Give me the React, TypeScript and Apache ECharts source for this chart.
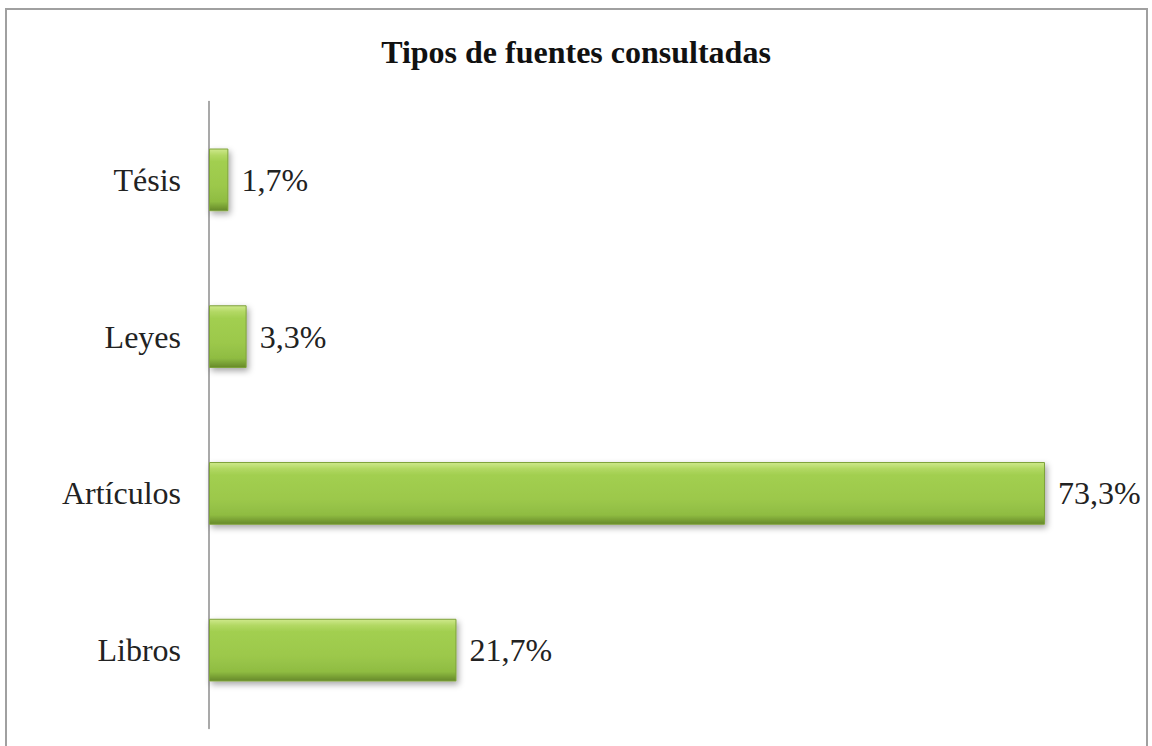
import React, { useEffect, useRef } from "react";
import * as echarts from "echarts";

const categories = ["Libros", "Artículos", "Leyes", "Tésis"];
const values = [21.7, 73.3, 3.3, 1.7];
const title = "Tipos de fuentes consultadas";

export default function App() {
  const ref = useRef<HTMLDivElement>(null);
  useEffect(() => {
    const chart = echarts.init(ref.current!, null, { renderer: "svg" });
    chart.setOption({
      animation: false,
      backgroundColor: "#ffffff",
      title: {
        text: title,
        left: "center",
        top: 31,
        textStyle: {
          fontFamily: "Liberation Serif",
          fontWeight: "bold",
          fontSize: 32,
          color: "#111",
        },
      },
      graphic: [
        {
          type: "rect",
          shape: { x: 6, y: 9, width: 1141, height: 760 },
          style: { fill: "none", stroke: "#a0a0a0", lineWidth: 2 },
          silent: true,
        },
      ],
      grid: { left: 209, top: 101.5, width: 912.4, height: 627 },
      xAxis: {
        type: "value",
        min: 0,
        max: 80,
        show: false,
      },
      yAxis: {
        type: "category",
        data: categories,
        axisLine: { show: true, lineStyle: { color: "#8c8c8c", width: 1.5 } },
        axisTick: { show: false },
        axisLabel: {
          fontFamily: "Liberation Serif",
          fontSize: 32,
          color: "#222",
          margin: 28,
        },
      },
      series: [
        {
          type: "bar",
          data: values,
          barCategoryGap: "60%",
          itemStyle: {
            color: new echarts.graphic.LinearGradient(0, 0, 0, 1, [
              { offset: 0, color: "#cfe98c" },
              { offset: 0.1, color: "#b2d863" },
              { offset: 0.2, color: "#a2cf50" },
              { offset: 0.6, color: "#9cc84b" },
              { offset: 0.85, color: "#8fbc42" },
              { offset: 1, color: "#66892a" },
            ]),
            borderColor: "#7ea23b",
            borderWidth: 1,
            shadowColor: "rgba(0,0,0,0.35)",
            shadowBlur: 6,
            shadowOffsetX: 2,
            shadowOffsetY: 3,
          },
          label: {
            show: true,
            position: "right",
            distance: 13,
            formatter: (p: any) => p.value.toFixed(1).replace(".", ",") + "%",
            fontFamily: "Liberation Serif",
            fontSize: 32,
            color: "#222",
          },
        },
      ],
    });
    return () => chart.dispose();
  }, []);
  return (
    <div
      ref={ref}
      style={{ position: "fixed", left: 0, top: 0, width: 1152, height: 746 }}
    />
  );
}
